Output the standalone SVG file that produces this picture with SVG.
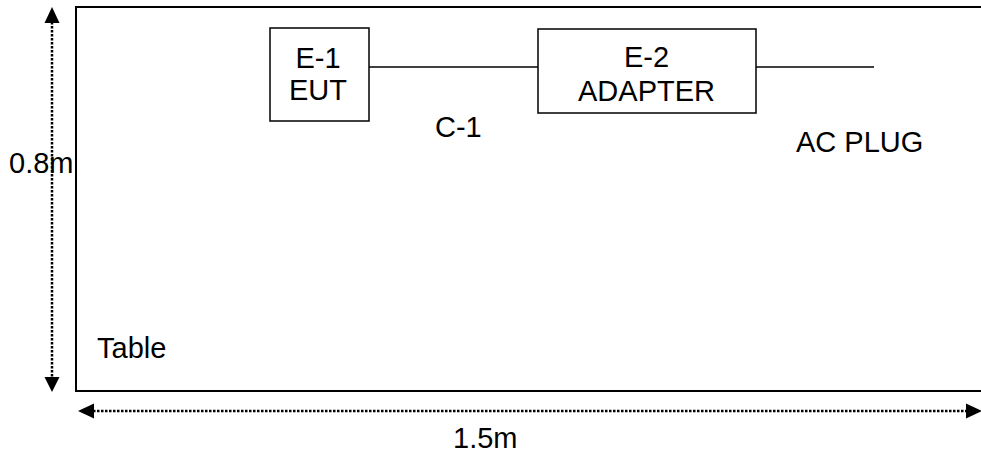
<svg xmlns="http://www.w3.org/2000/svg" width="981" height="457" viewBox="0 0 981 457">
<style>
text{font-family:"Liberation Sans",Arial,sans-serif;font-size:29px;fill:#000}
.box{fill:#fff;stroke:#000;stroke-width:1.5}
.wire{stroke:#000;stroke-width:1.5;fill:none}
.dim{stroke:#000;stroke-width:2.5;stroke-dasharray:2.5 1.5;fill:none}
.mid{text-anchor:middle}
</style>
<g id="table">
<path d="M981,7 H76 V391 H981" fill="none" stroke="#000" stroke-width="2"/>
<text x="97" y="358">Table</text>
</g>
<g id="connectors">
<line class="wire" x1="369" y1="67" x2="538" y2="67"/>
<line class="wire" x1="756" y1="67" x2="874" y2="67"/>
<text x="435" y="137">C-1</text>
</g>
<g id="E1">
<rect class="box" x="270" y="28" width="99" height="93"/>
<text class="mid" x="318" y="68">E-1</text>
<text class="mid" x="318" y="100">EUT</text>
</g>
<g id="E2">
<rect class="box" x="538" y="29" width="218" height="84"/>
<text class="mid" x="646.5" y="67">E-2</text>
<text class="mid" x="646.5" y="101">ADAPTER</text>
</g>
<g id="acplug">
<text x="796" y="152">AC PLUG</text>
</g>
<g id="dim-height">
<line class="dim" x1="52" y1="22" x2="52" y2="378"/>
<polygon points="52,7 44.5,23 59.5,23"/>
<polygon points="52,392 44.5,377 59.5,377"/>
<text x="9" y="173">0.8m</text>
</g>
<g id="dim-width">
<line class="dim" x1="93" y1="411" x2="967" y2="411"/>
<polygon points="78,411 94,403.5 94,418.5"/>
<polygon points="982,411 966,403.5 966,418.5"/>
<text x="453" y="448">1.5m</text>
</g>
</svg>
